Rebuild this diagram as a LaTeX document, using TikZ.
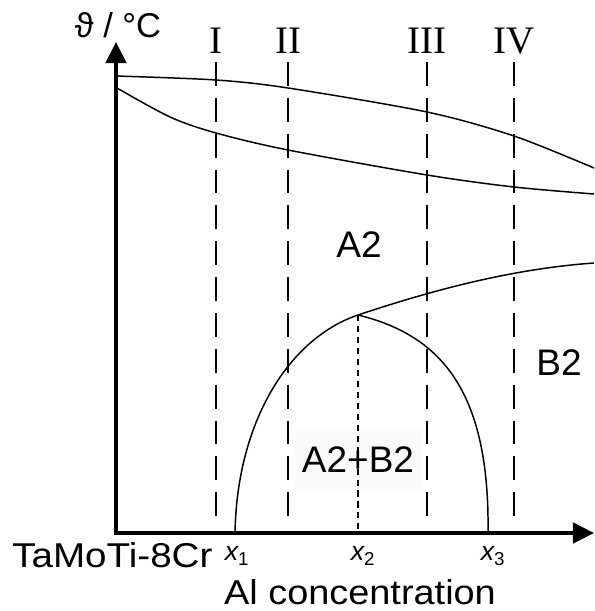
\documentclass[tikz,border=0pt]{standalone}
\usepackage{fontspec}
\setmainfont{Liberation Sans}
\newfontfamily\romanfont{Liberation Serif}
\usetikzlibrary{arrows.meta,positioning}

\tikzset{
  axis/.style={line width=2.85pt,line join=miter},
  phaseline/.style={line width=1.8pt,dash pattern=on 17pt off 8.5pt},
  boundary/.style={line width=1.05pt},
  sublabel/.style={inner sep=0pt,font=\fontsize{24.5}{29}\selectfont},
  phaselabel/.style={inner sep=0pt,font=\fontsize{26.3}{31}\selectfont},
  romanlabel/.style={inner sep=0pt,font=\romanfont\fontsize{27.7}{32}\selectfont},
  xlabel/.style={inner sep=0pt,font=\itshape\fontsize{19}{22}\selectfont}
}

\begin{document}
\begin{tikzpicture}[x=0.025cm,y=-0.025cm]
\useasboundingbox (0,0) rectangle (594,611);
% Axes
\coordinate (ytop) at (116,42);
\coordinate (xend) at (594,533);
\draw[axis,{Triangle[length=15pt,width=14.5pt]}-{Triangle[length=15pt,width=14.5pt]}] (ytop) |- (xend);
\node[sublabel] (ylab) at (118,25) {ϑ / °C};
\node[sublabel,anchor=west,xscale=1.12] (base) at (12,555) {TaMoTi-8Cr};
\node[sublabel,xscale=1.1] (xlab) at (360,592) {Al concentration};

% Liquidus and solidus
\draw[boundary] plot[smooth] coordinates {(116,76) (216,80) (288,88) (427,112) (514,136) (594,168)};
\draw[boundary] plot[smooth] coordinates {(117,88) (170,117) (216,133) (288,150) (427,175) (514,187) (594,194)};

% Order transition and miscibility gap
\coordinate (x1foot) at (235,533);
\coordinate (peak) at (358,315);
\coordinate (x3foot) at (488,533);
\coordinate (rend) at (594,263);
\draw[boundary] (x1foot) .. controls (237,420) and (290,338) .. (peak)
  .. controls (430,291) and (510,269) .. (rend);
\draw[boundary] (peak) .. controls (440,335) and (490,390) .. (x3foot);

% Phase labels
\node[phaselabel] (a2) at (359,245) {A2};
\node[phaselabel] (b2) at (559,363) {B2};
\node[phaselabel,fill=gray!4,minimum width=125*0.7113pt,minimum height=57*0.7113pt] (a2b2) at (358,460) {A2+B2};
\coordinate (x2foot) at (358,533);
\draw[line width=0.9pt,dash pattern=on 4.3pt off 3.5pt] (peak) -- (x2foot);

% Alloy sections
\foreach \xpos/\name in {216/I,288/II,427/III,514/IV}{
  \draw[phaseline] (\xpos,62) -- (\xpos,527);
  \node[romanlabel] at (\xpos,41) {\name};
}

% Composition marks
\node[xlabel] (x1) at (237,556) {x\textsubscript{\upshape 1}};
\node[xlabel] (x2) at (363,556) {x\textsubscript{\upshape 2}};
\node[xlabel] (x3) at (493,556) {x\textsubscript{\upshape 3}};
\end{tikzpicture}
\end{document}
